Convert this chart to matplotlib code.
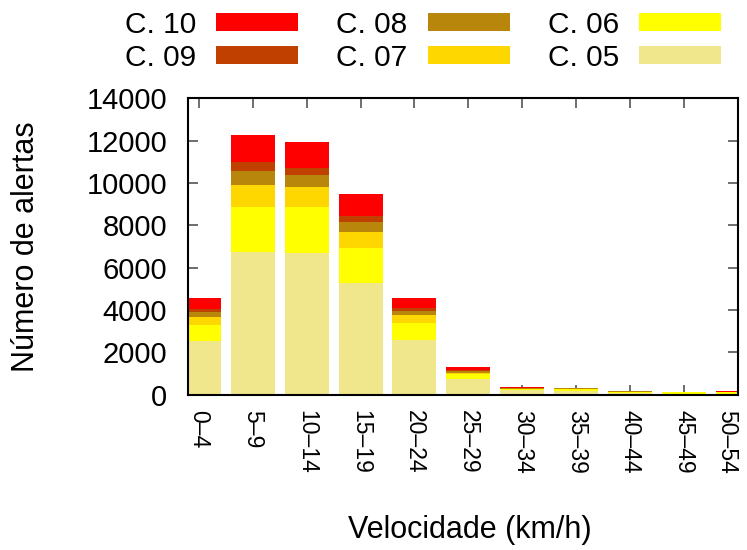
import matplotlib
matplotlib.use("Agg")
import matplotlib.pyplot as plt
import numpy as np

plt.rcParams['font.family'] = ['Liberation Sans', 'DejaVu Sans']

categories = ["0\u20134", "5\u20139", "10\u201314", "15\u201319", "20\u201324", "25\u201329",
              "30\u201334", "35\u201339", "40\u201344", "45\u201349", "50\u201354"]

c05 = [2530, 6740, 6690, 5270, 2580, 737, 215, 150, 60, 40, 50]
c06 = [760, 2125, 2175, 1655, 805, 220, 40, 110, 50, 60, 60]
c07 = [380, 1040, 945, 755, 380, 78, 30, 20, 20, 10, 10]
c08 = [235, 660, 565, 475, 190, 80, 25, 20, 30, 8, 10]
c09 = [140, 425, 330, 285, 140, 48, 20, 7, 5, 3, 5]
c10 = [520, 1275, 1230, 1040, 470, 141, 30, 5, 5, 2, 35]

series = [("C. 05", c05, "#F0E68C"),
          ("C. 06", c06, "#FFFF00"),
          ("C. 07", c07, "#FFD700"),
          ("C. 08", c08, "#B8860B"),
          ("C. 09", c09, "#C04000"),
          ("C. 10", c10, "#FF0000")]

fig = plt.figure(figsize=(7.47, 5.5), dpi=100)
ax = fig.add_axes([188/747, 1-394.6/550, 550/747, 296.3/550])

x = np.arange(len(categories))
bottom = np.zeros(len(categories))
handles = {}
for name, vals, col in series:
    v = np.array(vals, dtype=float)
    b = ax.bar(x, v, width=0.815, bottom=bottom, color=col, label=name, linewidth=0)
    handles[name] = b
    bottom += v

ax.set_xlim(-0.2, 10.0)
ax.set_ylim(0, 14000)
ax.set_yticks(np.arange(0, 14001, 2000))
ax.set_xticks(x)
ax.set_xticklabels(categories, rotation=-90, fontsize=16.5, va='top', ha='center')
ax.tick_params(axis='y', labelsize=21, pad=15)
ax.tick_params(axis='x', pad=11)
ax.tick_params(direction='in', top=True, right=True, length=7, width=1.2, color='#555555')
ax.set_axisbelow(True)
for s in ax.spines.values():
    s.set_linewidth(1.5)
    s.set_zorder(3)
lab = ax.get_xticklabels()[-1]
lab.set_ha('right')

ax.set_ylabel("Número de alertas", fontsize=22, va='center')
ax.yaxis.set_label_coords(-0.295, 0.5)
ax.set_xlabel("Velocidade (km/h)", fontsize=22)
ax.xaxis.set_label_coords(0.513, -0.457)
ax.xaxis.label.set_va('center')

order = ["C. 10", "C. 09", "C. 08", "C. 07", "C. 06", "C. 05"]
fig.legend([handles[n] for n in order], order, ncol=3, loc='upper left',
           bbox_to_anchor=(125/747, 1-11/550), frameon=False, markerfirst=False,
           fontsize=21.5, handlelength=2.75, handleheight=0.55, handletextpad=0.67,
           columnspacing=1.27, labelspacing=0.16, borderpad=0, borderaxespad=0)

fig.savefig("out.png", dpi=100)
